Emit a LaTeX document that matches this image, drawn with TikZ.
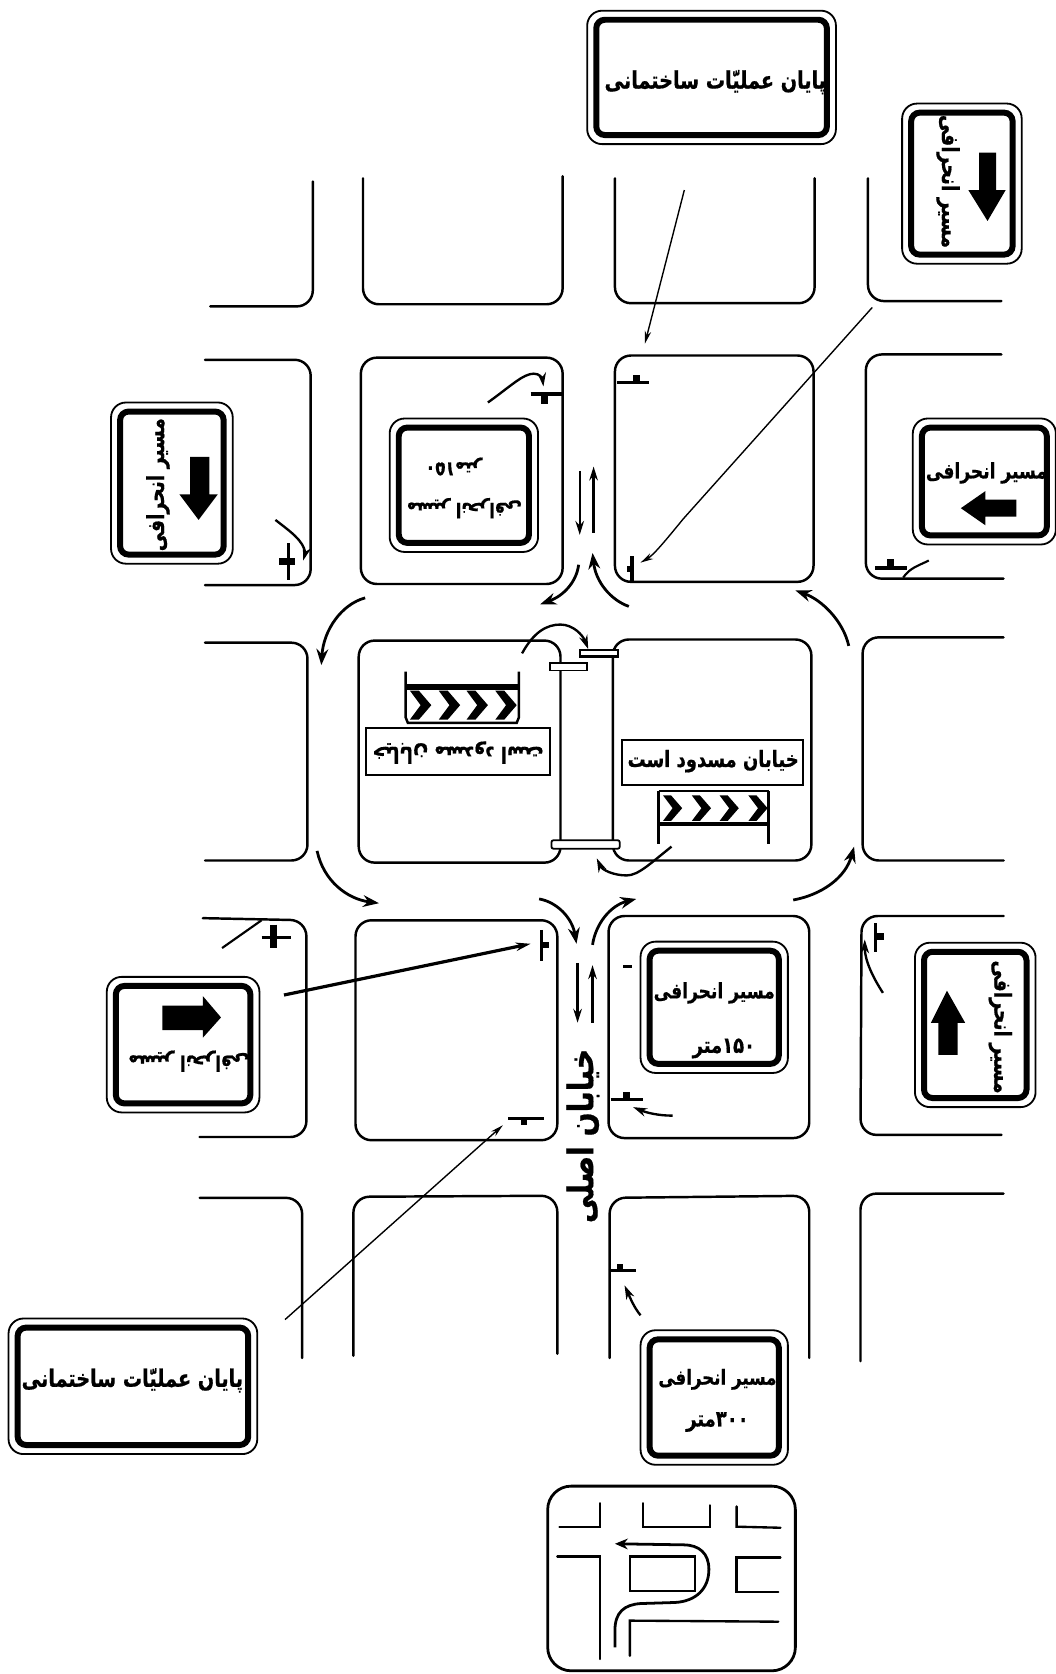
\documentclass[tikz,border=0pt]{standalone}
\usepackage{fontspec}
\usetikzlibrary{arrows.meta}
\TeXXeTstate=1
\newfontfamily\fa[Script=Arabic,FakeStretch=0.8,FakeBold=0.6]{DejaVu Sans Bold}
\newcommand\fasz[1]{\fa\fontsize{#1}{#1}\selectfont}
\newcommand\signbox[5]{%
  \node[signouter,minimum width=#4,minimum height=#5] (#1) at (#2,#3) {};
  \node[signinner,minimum width=#4-17,minimum height=#5-17] (#1i) at (#1.center) {};}
\newcommand\chev[4]{% x, ytop, ybot, width
  \fill (#1,#2) -- (#1+#4*.42,#2) -- (#1+#4,{(#2+#3)/2}) -- (#1+#4*.42,#3) -- (#1,#3) -- (#1+#4*.5,{(#2+#3)/2}) -- cycle;}
\tikzset{
  road/.style={line width=2.3pt,rounded corners=15pt,line cap=round},
  signouter/.style={draw,line width=1.7pt,rounded corners=14pt,inner sep=0pt},
  signinner/.style={draw,line width=5.6pt,rounded corners=8pt,inner sep=0pt},
  arr/.style={line width=2.6pt,-{Stealth[length=15pt,width=11pt]}},
  thinarr/.style={line width=1.3pt,-{Stealth[length=12pt,width=6pt]}},
  smallarr/.style={line width=2.2pt,-{Stealth[length=13pt,width=8pt]}},
  post/.style={line width=3pt},
  bump/.style={line width=6pt},
  panelrect/.style={draw,line width=1.9pt,fill=white,inner sep=0pt},
  mapline/.style={line width=2.2pt,line cap=round},
  fatext/.style={inner sep=0pt}
}
\begin{document}
\begin{tikzpicture}[x=1pt,y=-1pt]
\useasboundingbox[fill=white] (0,0) rectangle (989,1568);

% ---- road blocks
\draw[road] (197,287) -- (293,287) -- (293,170);
\draw[road] (340,167) -- (340,285) -- (527,285) -- (527,165);
\draw[road] (576,167) -- (576,284) -- (763,284) -- (763,167);
\draw[road] (813,167) -- (813,282) -- (938,282);

\draw[road] (192,337) -- (291,337) -- (291,548) -- (192,548);
\draw[road] (338,335) rectangle (527,547);
\draw[road] (576,333) rectangle (762,545);
\draw[road] (938,332) -- (811,332) -- (811,542) -- (940,542);

\draw[road] (192,602) -- (288,602) -- (288,806) -- (192,806);
\draw[road] (336,600) rectangle (525,808);
\draw[road] (574,599) rectangle (760,806);
\draw[road] (940,597) -- (808,597) -- (808,806) -- (940,806);

\draw[road] (190,860) -- (287,862) -- (287,1065) -- (187,1065);
\draw[road] (333,862) rectangle (522,1068);
\draw[road] (570,858) rectangle (758,1066);
\draw[road] (940,858) -- (807,858) -- (806,1063) -- (938,1063);

\draw[road] (187,1122) -- (283,1122) -- (283,1272);
\draw[road] (331,1270) -- (331,1121) -- (522,1120) -- (522,1268);
\draw[road] (571,1272) -- (571,1122) -- (758,1120) -- (758,1272);
\draw[road] (806,1275) -- (806,1118) -- (940,1118);

% ---- large signs
\signbox{sa}{666.5}{72.5}{233}{125}
\signbox{sb}{901}{172}{112}{150}
\signbox{sc}{161}{452.5}{114}{151}
\signbox{sd}{434.5}{454.5}{139}{125}
\signbox{se}{922}{451}{134}{118}
\signbox{sf}{171.5}{978.5}{143}{127}
\signbox{sg}{669}{943.5}{138}{123}
\signbox{sh}{913.5}{960}{113}{154}
\signbox{si}{124.5}{1298.5}{233}{127}
\signbox{sj}{669}{1309}{138}{126}

\node[fatext] (ta) at (670,77) {\fasz{22.5}\beginR پایان عملیّات ساختمانی\endR};
\node[fatext,rotate=-90] (tb) at (888,170) {\fasz{22}\beginR مسیر انحرافی\endR};
\node[fatext,rotate=90] (tc) at (148,454) {\fasz{22}\beginR مسیر انحرافی\endR};
\node[fatext,rotate=180] (td1) at (425,437) {\fasz{19}\beginR\beginL ۱۵۰\endL متر\endR};
\node[fatext,rotate=180] (td2) at (435,476) {\fasz{19}\beginR مسیر انحرافی\endR};
\node[fatext] (te) at (924,443) {\fasz{20}\beginR مسیر انحرافی\endR};
\node[fatext,rotate=180] (tf) at (177,994) {\fasz{20}\beginR مسیر انحرافی\endR};
\node[fatext] (tg1) at (669,930) {\fasz{20}\beginR مسیر انحرافی\endR};
\node[fatext] (tg2) at (678,982) {\fasz{21}\beginR\beginL ۱۵۰\endL متر\endR};
\node[fatext,rotate=-90] (th) at (937,962) {\fasz{22}\beginR مسیر انحرافی\endR};
\node[fatext] (ti) at (124,1293) {\fasz{22.5}\beginR پایان عملیّات ساختمانی\endR};
\node[fatext] (tj1) at (672,1292) {\fasz{19.5}\beginR مسیر انحرافی\endR};
\node[fatext] (tj2) at (672,1332) {\fasz{21}\beginR\beginL ۳۰۰\endL متر\endR};
\node[fatext,rotate=90] (tmain) at (546,1064) {\fasz{33}\beginR خیابان اصلی\endR};

% sign arrows
\fill (917,143) -- (933,143) -- (933,178) -- (942,178) -- (925,207) -- (907,178) -- (917,178) -- cycle;
\fill (178,428) -- (196,428) -- (196,463) -- (204,463) -- (186,487) -- (168,463) -- (178,463) -- cycle;
\fill (952,468) -- (923,468) -- (923,460) -- (900,476) -- (923,492) -- (923,484) -- (952,484) -- cycle;
\fill (152,942) -- (190,942) -- (190,933) -- (207,953) -- (190,972) -- (190,965) -- (152,965) -- cycle;
\fill (879,988) -- (879,958) -- (872,958) -- (887,928) -- (904,958) -- (897,958) -- (897,988) -- cycle;

% ---- centre panels and texts
\node[panelrect,minimum width=172,minimum height=44] (pl) at (429,704) {};
\node[fatext,rotate=180] (tpl) at (429,705) {\fasz{21}\beginR خیابان مسدود است\endR};
\node[panelrect,minimum width=169,minimum height=42] (pr) at (667.5,714) {};
\node[fatext] (tpr) at (668,713) {\fasz{21}\beginR خیابان مسدود است\endR};

% left chevron panel
\draw[line width=2.3pt] (380,629) -- (380,672) -- (382,677) -- (484,677) -- (486,672) -- (486,629);
\fill (381,641) rectangle (485,646);
\foreach \x in {384,411,437,464} {\chev{\x}{647}{674}{20}}
% right chevron panel
\draw[line width=1.9pt] (617,741) -- (720,741);
\draw[line width=2.3pt] (617,741) -- (617,791);
\draw[line width=2.3pt] (720,741) -- (720,791);
\fill (617,770) rectangle (720,773.5);
\foreach \x in {621,648,674,701} {\chev{\x}{745}{769}{18}}

% barriers
\node[draw,line width=1.7pt,fill=white,minimum width=35,minimum height=7,inner sep=0pt] (ba) at (532.5,624.5) {};
\node[draw,line width=2.2pt,fill=white,minimum width=36,minimum height=6,inner sep=0pt] (bb) at (561,612) {};
\node[draw,line width=1.7pt,fill=white,rounded corners=2pt,minimum width=64,minimum height=8,inner sep=0pt] (bc) at (548.5,791) {};

% ---- leader connectors
\coordinate (la1) at (641,178);
\coordinate (la2) at (604,322);
\draw[thinarr] (la1) -- (la2);
\coordinate (lb1) at (817,288);
\coordinate (lb2) at (600,527);
\draw[thinarr] (lb1) -- (640,486) .. controls (622,508) and (612,520) .. (lb2);
\coordinate (lc1) at (266,932);
\coordinate (lc2) at (497,884);
\draw[line width=3pt,-{Stealth[length=14pt,width=8pt]}] (lc1) -- (lc2);
\coordinate (ld1) at (267,1236);
\coordinate (ld2) at (471,1054);
\draw[thinarr] (ld1) -- (ld2);

% ---- traffic arrows in the roads
\draw[smallarr] (543,441) -- (543,501);
\draw[smallarr] (556,499) -- (556,437);
\draw[smallarr] (541,902) -- (541,958);
\draw[smallarr] (555,958) -- (555,904);
\draw[arr] (542,529) .. controls (540,545) and (528,558) .. (506,566);
\draw[arr] (589,568) .. controls (572,562) and (558,545) .. (555,518);
\draw[arr] (342,560) .. controls (320,566) and (303,590) .. (301,623);
\draw[arr] (795,605) .. controls (790,582) and (770,562) .. (745,553);
\draw[arr] (297,797) .. controls (303,825) and (325,842) .. (355,846);
\draw[arr] (505,842) .. controls (522,845) and (536,860) .. (540,884);
\draw[arr] (555,885) .. controls (558,865) and (572,848) .. (596,842);
\draw[arr] (743,843) .. controls (770,838) and (792,822) .. (800,793);
\draw[smallarr] (489,612) .. controls (500,592) and (512,585) .. (525,585) .. controls (537,585) and (546,595) .. (551,608);
\draw[smallarr] (629,793) .. controls (610,808) and (598,820) .. (587,820) .. controls (575,820) and (564,815) .. (559,804);

% ---- small posts and their arrows
\draw[post] (497,369) -- (527,369); \draw[bump] (510,369) -- (510,378);
\draw[smallarr] (457,377) .. controls (478,362) and (490,350) .. (500,350) .. controls (505,350) and (508,354) .. (509,362);
\draw[post] (578,358) -- (608,358); \draw[bump] (596,358) -- (596,351);
\draw[post] (592,521) -- (592,545); \draw[bump] (592,533) -- (587,533);
\draw[post] (270,509) -- (270,543); \draw[bump] (270,526) -- (261,526) ; \draw[bump] (270,526) -- (276,526);
\draw[smallarr] (258,487) .. controls (272,498) and (284,506) .. (286,518) -- (284,525);
\draw[post] (820,532) -- (850,532); \draw[bump] (834,532) -- (834,524);
\draw[line width=2pt] (846,541) .. controls (852,532) and (860,530) .. (870,525);
\draw[post] (245,878) -- (273,878); \draw[bump] (256,866) -- (256,888);
\draw[line width=2pt] (208,888) -- (245,862);
\draw[post] (507,871) -- (507,900); \draw[bump] (507,885) -- (514,885);
\draw[post] (476,1048) -- (510,1048); \draw[bump] (491,1048) -- (491,1054);
\draw[post] (584,905) -- (592,905);
\draw[post] (572,1030) -- (602,1030); \draw[bump] (587,1030) -- (587,1023);
\draw[smallarr] (630,1045) .. controls (616,1045) and (605,1042) .. (593,1037);
\draw[post] (820,865) -- (820,892); \draw[bump] (820,877) -- (828,877);
\draw[smallarr] (827,930) .. controls (818,916) and (810,900) .. (810,880);
\draw[post] (570,1190) -- (596,1190); \draw[bump] (581,1190) -- (581,1184);
\draw[smallarr] (600,1232) .. controls (594,1225) and (590,1215) .. (585,1204);

% ---- mini map
\draw[line width=2.6pt,rounded corners=22pt] (513,1392) rectangle (745,1565);
\draw[mapline] (524,1430) -- (562,1430) -- (562,1408);
\draw[mapline] (602,1408) -- (602,1430) -- (665,1430) -- (665,1410);
\draw[mapline] (690,1411) -- (690,1430) -- (731,1431);
\draw[mapline] (522,1458) -- (562,1458) -- (562,1554);
\draw[mapline] (590,1458) rectangle (651,1490);
\draw[mapline] (731,1459) -- (690,1459) -- (690,1491) -- (729,1491);
\draw[mapline] (729,1519) -- (590,1518) -- (590,1551);
\draw[line width=2.6pt,-{Stealth[length=12pt,width=10pt]}] (576,1543) -- (576,1527)
  .. controls (576,1510) and (585,1503) .. (600,1502) -- (632,1501)
  .. controls (652,1500) and (664,1488) .. (664,1470)
  .. controls (664,1455) and (655,1447) .. (640,1447) -- (576,1446);
\end{tikzpicture}
\end{document}
